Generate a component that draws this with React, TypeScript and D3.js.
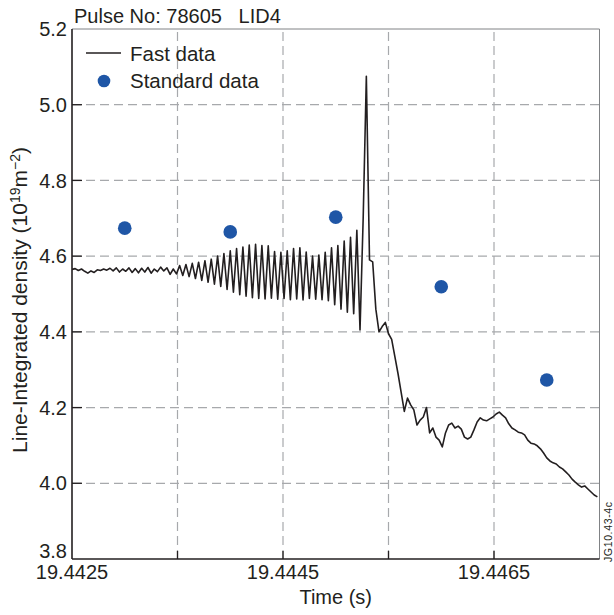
import React from "react";
import * as d3 from "d3";

// fast interferometer samples, uniform spacing from fastStart
const fastStart = 19.4425;
const fastStep = 0.00003;
const fastValues = [
  4.565, 4.567, 4.562, 4.566, 4.56, 4.555, 4.561, 4.557, 4.564, 4.562,
  4.566, 4.563, 4.568, 4.561, 4.569, 4.558, 4.566, 4.56, 4.569, 4.557,
  4.567, 4.556, 4.568, 4.558, 4.57, 4.555, 4.566, 4.559, 4.571, 4.561,
  4.569, 4.552, 4.566, 4.553, 4.575, 4.549, 4.578, 4.546, 4.581, 4.541,
  4.584, 4.536, 4.588, 4.531, 4.592, 4.526, 4.6, 4.52, 4.607, 4.512,
  4.614, 4.505, 4.62, 4.498, 4.624, 4.494, 4.629, 4.49, 4.631, 4.488,
  4.628, 4.487, 4.627, 4.489, 4.612, 4.486, 4.61, 4.488, 4.614, 4.485,
  4.62, 4.487, 4.622, 4.484, 4.611, 4.488, 4.6, 4.486, 4.603, 4.485,
  4.61, 4.482, 4.622, 4.472, 4.628, 4.46, 4.64, 4.452, 4.65, 4.448,
  4.668, 4.405, 4.7, 5.075, 4.59, 4.585, 4.46, 4.4, 4.414, 4.425,
  4.395, 4.38, 4.335, 4.29, 4.24, 4.19, 4.225, 4.207, 4.194, 4.154,
  4.167, 4.175, 4.2, 4.133, 4.146, 4.122, 4.114, 4.096, 4.133, 4.154,
  4.159, 4.146, 4.151, 4.143, 4.122, 4.117, 4.122, 4.141, 4.162, 4.173,
  4.167, 4.165, 4.17, 4.175, 4.183, 4.188, 4.18, 4.173, 4.157, 4.146,
  4.141, 4.135, 4.133, 4.128, 4.114, 4.106, 4.104, 4.099, 4.091, 4.08,
  4.067, 4.059, 4.054, 4.051, 4.043, 4.038, 4.03, 4.022, 4.011, 4.003,
  3.996, 3.99, 3.993, 3.985, 3.977, 3.969, 3.964,
];

const standardTimes = [19.443, 19.444, 19.445, 19.446, 19.447];
const standardValues = [4.674, 4.664, 4.703, 4.519, 4.273];

const xTicks = [19.4425, 19.4435, 19.4445, 19.4455, 19.4465, 19.4475];
const xLabelTicks = [19.4425, 19.4445, 19.4465];
const yTicks = [3.8, 4.0, 4.2, 4.4, 4.6, 4.8, 5.0, 5.2];
const legendLabels = ["Fast data", "Standard data"];

const W = 614;
const H = 615;
const m = { top: 29, right: 14.5, bottom: 56, left: 72 };
const font = "'Liberation Sans', Arial, sans-serif";
const ink = "#231f20";
const blue = "#1f56a6";

export default function App() {
  const x = d3.scaleLinear().domain([19.4425, 19.4475]).range([m.left, W - m.right]);
  const y = d3.scaleLinear().domain([3.8, 5.2]).range([H - m.bottom, m.top]);

  const fastPoints: [number, number][] = fastValues.map((v, i) => [fastStart + i * fastStep, v]);
  const line = d3
    .line<[number, number]>()
    .x(d => x(d[0]))
    .y(d => y(d[1]));

  const x0 = x.range()[0];
  const x1 = x.range()[1];
  const y0 = y.range()[0];
  const y1 = y.range()[1];

  return (
    <svg width={W} height={H} style={{ position: "absolute", left: 0, top: 0, background: "#fff" }} fontFamily={font}>
      <defs>
        <clipPath id="plot">
          <rect x={x0} y={y1} width={x1 - x0} height={y0 - y1} />
        </clipPath>
      </defs>
      {/* grid */}
      <g stroke="#a7a9ac" strokeWidth={1.2} strokeDasharray="9,5">
        {xTicks.slice(1, -1).map(t => (
          <line key={t} x1={x(t)} x2={x(t)} y1={y0} y2={y1} />
        ))}
        {yTicks.slice(1, -1).map(t => (
          <line key={t} x1={x0} x2={x1} y1={y(t)} y2={y(t)} />
        ))}
      </g>
      {/* ticks, inward */}
      <g stroke={ink} strokeWidth={1.3}>
        {xTicks.slice(1, -1).map(t => (
          <line key={t} x1={x(t)} x2={x(t)} y1={y0} y2={y0 - 8} />
        ))}
        {yTicks.slice(1, -1).map(t => (
          <line key={t} x1={x0} x2={x0 + 10} y1={y(t)} y2={y(t)} />
        ))}
      </g>
      {/* data */}
      <g clipPath="url(#plot)">
        <path d={line(fastPoints) || ""} fill="none" stroke={ink} strokeWidth={1.6} strokeLinejoin="round" />
        {standardTimes.map((t, i) => (
          <circle key={t} cx={x(t)} cy={y(standardValues[i])} r={6.8} fill={blue} />
        ))}
      </g>
      {/* frame */}
      <line x1={x0} x2={x1} y1={y1} y2={y1} stroke="#808285" strokeWidth={1} />
      <line x1={x1} x2={x1} y1={y1} y2={y0} stroke="#808285" strokeWidth={1} />
      <line x1={x0} x2={x0} y1={y1} y2={y0} stroke={ink} strokeWidth={1.6} />
      <line x1={x0} x2={x1} y1={y0} y2={y0} stroke={ink} strokeWidth={1.6} />
      {/* tick labels */}
      <g fontSize={20} fill={ink}>
        {yTicks.map((t, i) => (
          <text key={t} x={x0 - 5} y={y(t) - (i === 0 ? 8 : 0)} dy="0.36em" textAnchor="end">
            {d3.format(".1f")(t)}
          </text>
        ))}
        {xLabelTicks.map(t => (
          <text key={t} x={x(t)} y={579} textAnchor="middle">
            {d3.format(".4f")(t)}
          </text>
        ))}
      </g>
      {/* titles */}
      <text x={74} y={23} fontSize={20} fill={ink} style={{ whiteSpace: "pre" }}>
        {"Pulse No: 78605   LID4"}
      </text>
      <text x={(x0 + x1) / 2} y={604} fontSize={20} fill={ink} textAnchor="middle">
        Time (s)
      </text>
      <text transform="translate(27,300) rotate(-90)" fontSize={21} fill={ink} textAnchor="middle">
        Line-Integrated density (10
        <tspan dy={-7} fontSize={14}>19</tspan>
        <tspan dy={7}>m</tspan>
        <tspan dy={-7} fontSize={14}>−2</tspan>
        <tspan dy={7}>)</tspan>
      </text>
      <text transform="translate(612,562) rotate(-90)" fontSize={10.5} fill={ink} textLength={60}>
        JG10.43-4c
      </text>
      {/* legend */}
      <g fontSize={20.5} fill={ink}>
        <line x1={86} x2={121} y1={53} y2={53} stroke={ink} strokeWidth={1.4} />
        <text x={130} y={61}>{legendLabels[0]}</text>
        <circle cx={104} cy={81} r={6.3} fill={blue} />
        <text x={130} y={88}>{legendLabels[1]}</text>
      </g>
    </svg>
  );
}
